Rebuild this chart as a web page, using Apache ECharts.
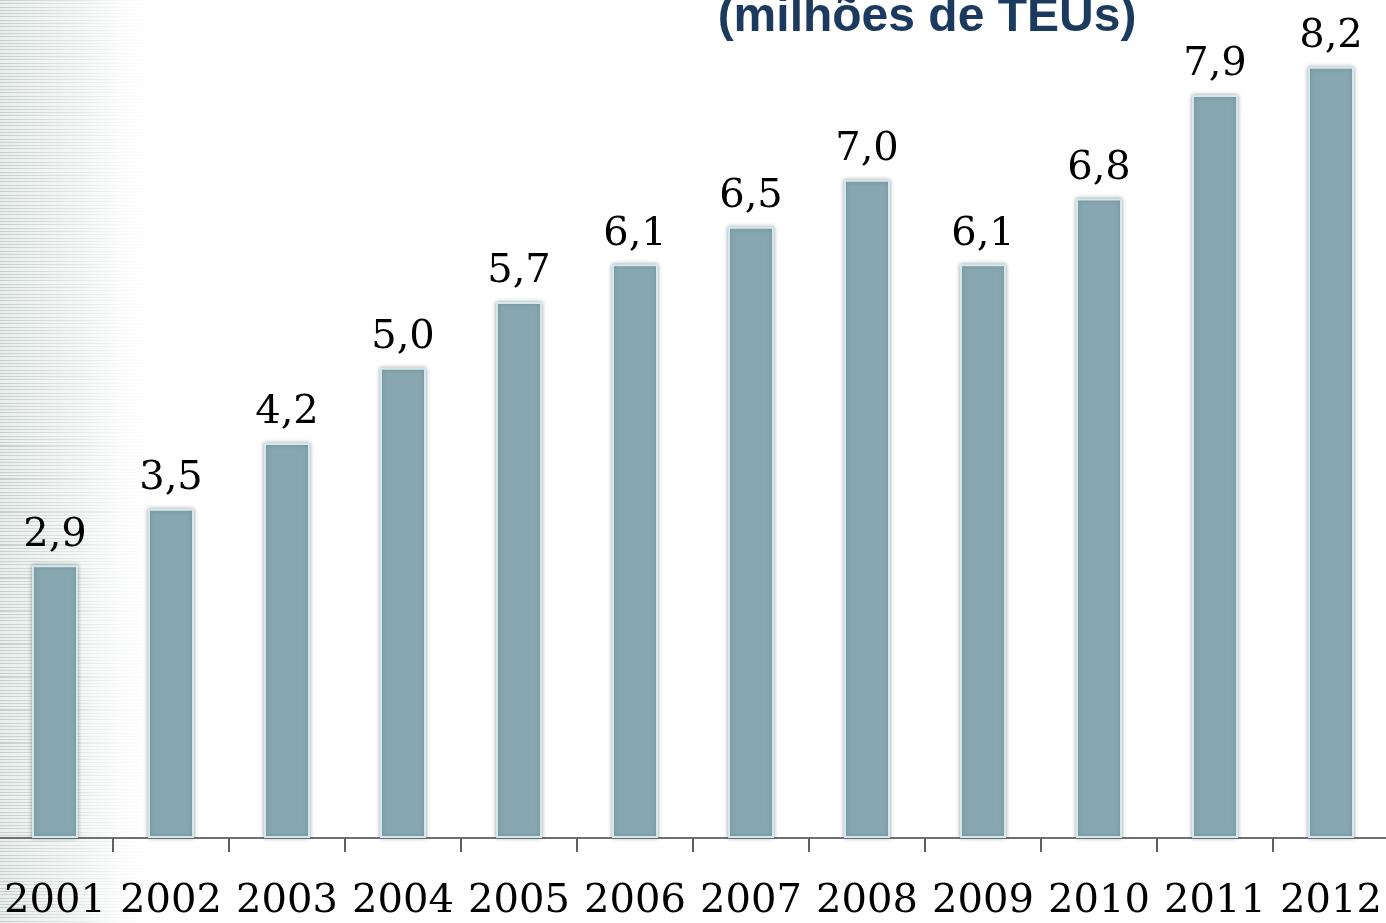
<!DOCTYPE html>
<html>
<head>
<meta charset="utf-8">
<script src="https://cdn.jsdelivr.net/npm/echarts@6/dist/echarts.min.js"></script>
<style>
html,body{margin:0;padding:0;background:#fff;overflow:hidden;}
#wrap{position:relative;width:1386px;height:923px;overflow:hidden;
background:
 linear-gradient(to right, rgba(255,255,255,0.15) 0px, rgba(255,255,255,0.55) 70px, rgba(255,255,255,0.9) 120px, #fff 160px),
 repeating-linear-gradient(180deg, #b9c7c2 0px, #b9c7c2 1px, #e6ece9 1px, #e6ece9 3.3px);}
#chart{position:absolute;left:-3px;top:0;width:1392px;height:923px;}
</style>
</head>
<body>
<div id="wrap"><div id="chart"></div></div>
<script>
const years = ['2001','2002','2003','2004','2005','2006','2007','2008','2009','2010','2011','2012'];
const teus = [2.9, 3.5, 4.2, 5.0, 5.7, 6.1, 6.5, 7.0, 6.1, 6.8, 7.9, 8.2];
const titleText = '(milhões de TEUs)';

const chart = echarts.init(document.getElementById('chart'), null, {renderer:'canvas'});
chart.setOption({
  backgroundColor: 'transparent',
  animation: false,
  grid: {left: 0, right: 0, top: 1, bottom: 85, containLabel: false},
  xAxis: {
    type: 'category',
    data: years,
    boundaryGap: true,
    axisLine: {show: true, lineStyle: {color: '#707070', width: 2}},
    axisTick: {show: true, interval: 0, length: 14, lineStyle: {color: '#606060', width: 2}},
    axisLabel: {
      interval: 0,
      margin: 44,
      fontFamily: '"DejaVu Serif", "Liberation Serif", serif',
      fontSize: 40, color: '#000', lineHeight: 40
    }
  },
  yAxis: {
    type: 'value', min: 0, max: 8.9, show: false,
    splitLine: {show: false}
  },
  graphic: [{
    type: 'text',
    style: {
      text: titleText, x: 930, y: 18,
      align: 'center', verticalAlign: 'middle',
      font: 'bold 48px "Liberation Sans", Arial, sans-serif',
      fill: '#1b3a5e'
    }
  }],
  series: [{
    type: 'bar',
    data: teus,
    barWidth: 46,
    itemStyle: {
      color: '#87a8b0',
      borderColor: '#d3e8ec',
      borderWidth: 2,
      shadowColor: 'rgba(90,100,105,0.55)',
      shadowBlur: 4,
      shadowOffsetX: 0,
      shadowOffsetY: 0
    },
    label: {
      show: true, position: 'top', distance: 10,
      formatter: p => p.value.toFixed(1).replace('.', ','),
      fontFamily: '"DejaVu Serif", "Liberation Serif", serif',
      fontSize: 40, color: '#000', lineHeight: 40
    }
  }]
});
</script>
</body>
</html>
